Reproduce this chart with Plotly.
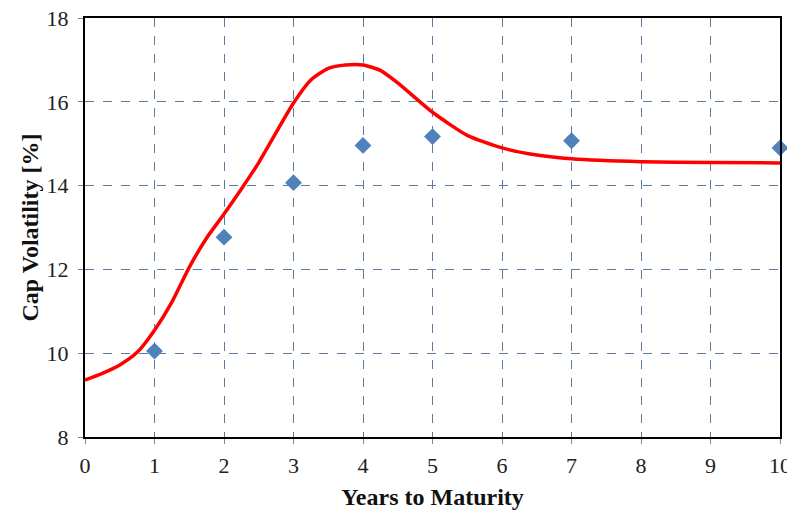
import plotly.graph_objects as go

# Market cap volatilities (points)
mkt_years = [1, 2, 3, 4, 5, 7, 10]
mkt_vol = [10.05, 12.77, 14.07, 14.96, 15.17, 15.07, 14.90]

# Model curve (red line)
curve_years = [0, 0.25, 0.5, 0.75, 1, 1.25, 1.5, 1.75, 2, 2.25, 2.5, 3, 3.25, 3.5, 3.75,
               4, 4.25, 4.5, 5, 5.5, 6, 6.5, 7, 8, 9, 10]
curve_vol = [9.36, 9.52, 9.72, 10.02, 10.55, 11.22, 12.05, 12.75, 13.32, 13.92, 14.55,
             15.97, 16.52, 16.80, 16.88, 16.88, 16.75, 16.45, 15.75, 15.20, 14.90,
             14.73, 14.64, 14.57, 14.55, 14.54]

x_ticks = list(range(0, 11))
y_ticks = [8, 10, 12, 14, 16, 18]

fig = go.Figure()
fig.add_trace(go.Scatter(x=curve_years, y=curve_vol, mode="lines",
                         line=dict(color="#ff0000", width=3.5, shape="spline", smoothing=0.6),
                         showlegend=False, cliponaxis=False))
fig.add_trace(go.Scatter(x=mkt_years, y=mkt_vol, mode="markers",
                         marker=dict(symbol="diamond", size=13, color="#4f81bd"),
                         showlegend=False, cliponaxis=False))

axis_common = dict(showline=True, linecolor="black", linewidth=2, mirror=True,
                   showgrid=True, gridcolor="#5b7ba3", gridwidth=1, griddash="dash",
                   ticks="outside", ticklen=5, tickcolor="#888", zeroline=False,
                   ticklabeloverflow="allow",
                   tickfont=dict(family="Liberation Serif", size=22, color="#222"))

fig.update_xaxes(range=[0, 10], tickvals=x_ticks, **axis_common, ticklabelstandoff=3,
                 title=dict(text="<b>Years to Maturity</b>",
                            font=dict(family="Liberation Serif", size=24, color="#111"),
                            standoff=11))
fig.update_yaxes(range=[8, 18], tickvals=y_ticks, **axis_common, ticklabelstandoff=5,
                 title=dict(text="<b>Cap Volatility [%]</b>",
                            font=dict(family="Liberation Serif", size=24, color="#111"),
                            standoff=1))

fig.update_layout(width=787, height=505, plot_bgcolor="white", paper_bgcolor="white",
                  margin=dict(l=77, r=15, t=10, b=76, autoexpand=False))

fig.write_html("out.html")
